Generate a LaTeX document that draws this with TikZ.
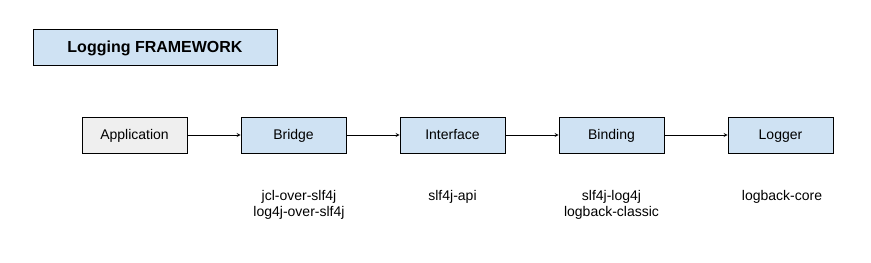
\documentclass[tikz,border=0pt]{standalone}
\usepackage{fontspec}
\setmainfont{Liberation Sans}
\usepackage{tikz}

\definecolor{boxblue}{HTML}{CFE2F3}
\definecolor{boxgray}{HTML}{EFEFEF}

\begin{document}
\begin{tikzpicture}[x=0.75pt, y=-0.75pt, >=stealth,
    part/.style={draw, thin, fill=boxblue, minimum width=78.75pt, minimum height=27pt, text height=7.5pt, text depth=0pt, font=\fontsize{10.5}{12}\selectfont},
    jar/.style={align=center, font=\fontsize{10.5}{12}\selectfont}]
            \useasboundingbox (0,0) rectangle (871,263);

            \node[part, minimum width=183pt, text height=8.6pt, font=\bfseries\fontsize{12}{14}\selectfont] (title) at (155,47) {Logging FRAMEWORK};

            \node[part, fill=boxgray] (app) at (134.5,135) {Application};
            \node[part] (bridge) at (293.5,135) {Bridge};
            \node[part] (iface) at (452.5,135) {Interface};
            \node[part] (binding) at (611.5,135) {Binding};
            \node[part] (logger) at (780.5,135) {Logger};

            \draw[->] (app) -- (bridge);
            \draw[->] (bridge) -- (iface);
            \draw[->] (iface) -- (binding);
            \draw[->] (binding) -- (logger);

            % jars under each part
            \node[jar] (bridgejar) at (299,205) {jcl-over-slf4j\\log4j-over-slf4j};
            \node[jar] (ifacejar) at (452.5,197) {slf4j-api};
            \node[jar] (bindingjar) at (611.5,205) {slf4j-log4j\\logback-classic};
            \node[jar] (loggerjar) at (782,197) {logback-core};
\end{tikzpicture}
\end{document}
